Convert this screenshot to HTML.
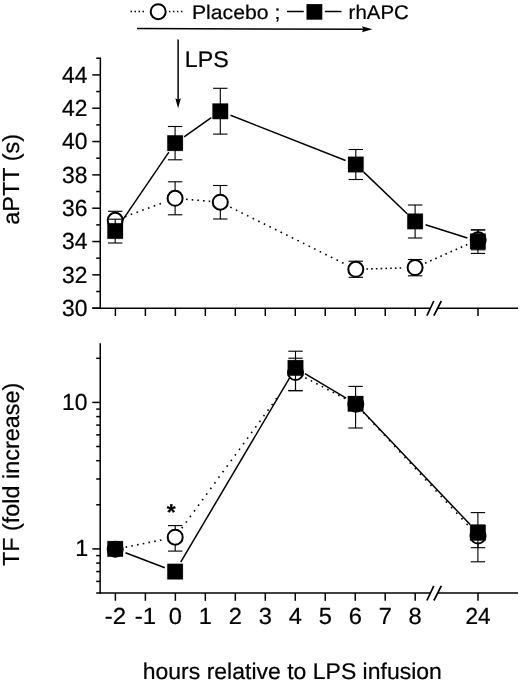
<!DOCTYPE html>
<html><head><meta charset="utf-8"><title>Figure</title>
<style>html,body{margin:0;padding:0;background:#fff}svg{display:block}</style></head>
<body>
<svg width="520" height="682" viewBox="0 0 520 682" font-family='"Liberation Sans", sans-serif' fill="#000" stroke="#000" stroke-width="0.22" stroke-linejoin="round">
<rect width="520" height="682" fill="#fff" stroke="none"/>
<line x1="130.50" y1="11.50" x2="144.50" y2="11.50" stroke="#000" stroke-width="1.5" stroke-dasharray="1.5 2.5"/>
<line x1="168.90" y1="11.50" x2="183.00" y2="11.50" stroke="#000" stroke-width="1.5" stroke-dasharray="1.5 2.5"/>
<circle cx="158.20" cy="11.70" r="7.5" fill="#fff" stroke="#000" stroke-width="2.0"/>
<text transform="translate(191.90,19.00) skewX(0.1)" font-size="19.7" text-anchor="start" textLength="88.4" lengthAdjust="spacingAndGlyphs" >Placebo ;</text>
<line x1="287.00" y1="11.50" x2="303.80" y2="11.50" stroke="#000" stroke-width="1.5" />
<line x1="324.90" y1="11.50" x2="341.50" y2="11.50" stroke="#000" stroke-width="1.5" />
<rect x="306.5" y="4.1" width="15.8" height="15.6" fill="#000" stroke="none"/>
<text transform="translate(348.60,19.00) skewX(0.1)" font-size="19.7" text-anchor="start" textLength="60.3" lengthAdjust="spacingAndGlyphs" >rhAPC</text>
<line x1="137.00" y1="28.50" x2="364.00" y2="29.30" stroke="#000" stroke-width="1.5" />
<polygon points="372.4,29.35 361.9,26.3 363.4,29.3 361.9,32.3" fill="#000" stroke="none"/>
<line x1="178.10" y1="39.60" x2="178.10" y2="100.00" stroke="#000" stroke-width="1.5" />
<polygon points="178.1,108.3 175.3,98.3 178.1,99.7 180.9,98.3" fill="#000" stroke="none"/>
<text transform="translate(184.80,67.20) skewX(0.1)" font-size="22.6" text-anchor="start" textLength="44" lengthAdjust="spacingAndGlyphs" >LPS</text>
<line x1="100.35" y1="57.60" x2="100.25" y2="308.95" stroke="#000" stroke-width="1.5" />
<line x1="92.30" y1="308.20" x2="430.30" y2="308.20" stroke="#000" stroke-width="1.5" />
<line x1="438.00" y1="308.20" x2="518.00" y2="308.20" stroke="#000" stroke-width="1.5" />
<line x1="426.90" y1="315.70" x2="433.80" y2="301.00" stroke="#000" stroke-width="1.7" />
<line x1="433.90" y1="315.70" x2="441.30" y2="301.00" stroke="#000" stroke-width="1.7" />
<line x1="92.30" y1="308.20" x2="100.20" y2="308.20" stroke="#000" stroke-width="1.5" />
<text transform="translate(87.50,316.10) skewX(0.1)" font-size="23.3" text-anchor="end" textLength="25.5" lengthAdjust="spacingAndGlyphs" >30</text>
<line x1="96.20" y1="291.53" x2="100.20" y2="291.53" stroke="#000" stroke-width="1.5" />
<line x1="92.30" y1="274.87" x2="100.20" y2="274.87" stroke="#000" stroke-width="1.5" />
<text transform="translate(87.50,282.77) skewX(0.1)" font-size="23.3" text-anchor="end" textLength="25.5" lengthAdjust="spacingAndGlyphs" >32</text>
<line x1="96.20" y1="258.20" x2="100.20" y2="258.20" stroke="#000" stroke-width="1.5" />
<line x1="92.30" y1="241.54" x2="100.20" y2="241.54" stroke="#000" stroke-width="1.5" />
<text transform="translate(87.50,249.44) skewX(0.1)" font-size="23.3" text-anchor="end" textLength="25.5" lengthAdjust="spacingAndGlyphs" >34</text>
<line x1="96.20" y1="224.88" x2="100.20" y2="224.88" stroke="#000" stroke-width="1.5" />
<line x1="92.30" y1="208.21" x2="100.20" y2="208.21" stroke="#000" stroke-width="1.5" />
<text transform="translate(87.50,216.11) skewX(0.1)" font-size="23.3" text-anchor="end" textLength="25.5" lengthAdjust="spacingAndGlyphs" >36</text>
<line x1="96.20" y1="191.54" x2="100.20" y2="191.54" stroke="#000" stroke-width="1.5" />
<line x1="92.30" y1="174.88" x2="100.20" y2="174.88" stroke="#000" stroke-width="1.5" />
<text transform="translate(87.50,182.78) skewX(0.1)" font-size="23.3" text-anchor="end" textLength="25.5" lengthAdjust="spacingAndGlyphs" >38</text>
<line x1="96.20" y1="158.22" x2="100.20" y2="158.22" stroke="#000" stroke-width="1.5" />
<line x1="92.30" y1="141.55" x2="100.20" y2="141.55" stroke="#000" stroke-width="1.5" />
<text transform="translate(87.50,149.45) skewX(0.1)" font-size="23.3" text-anchor="end" textLength="25.5" lengthAdjust="spacingAndGlyphs" >40</text>
<line x1="96.20" y1="124.88" x2="100.20" y2="124.88" stroke="#000" stroke-width="1.5" />
<line x1="92.30" y1="108.22" x2="100.20" y2="108.22" stroke="#000" stroke-width="1.5" />
<text transform="translate(87.50,116.12) skewX(0.1)" font-size="23.3" text-anchor="end" textLength="25.5" lengthAdjust="spacingAndGlyphs" >42</text>
<line x1="96.20" y1="91.56" x2="100.20" y2="91.56" stroke="#000" stroke-width="1.5" />
<line x1="92.30" y1="74.89" x2="100.20" y2="74.89" stroke="#000" stroke-width="1.5" />
<text transform="translate(87.50,82.79) skewX(0.1)" font-size="23.3" text-anchor="end" textLength="25.5" lengthAdjust="spacingAndGlyphs" >44</text>
<line x1="96.20" y1="58.22" x2="100.20" y2="58.22" stroke="#000" stroke-width="1.5" />
<line x1="115.40" y1="308.20" x2="115.40" y2="316.00" stroke="#000" stroke-width="1.5" />
<line x1="145.38" y1="308.20" x2="145.38" y2="316.00" stroke="#000" stroke-width="1.5" />
<line x1="175.36" y1="308.20" x2="175.36" y2="316.00" stroke="#000" stroke-width="1.5" />
<line x1="205.34" y1="308.20" x2="205.34" y2="316.00" stroke="#000" stroke-width="1.5" />
<line x1="235.32" y1="308.20" x2="235.32" y2="316.00" stroke="#000" stroke-width="1.5" />
<line x1="265.30" y1="308.20" x2="265.30" y2="316.00" stroke="#000" stroke-width="1.5" />
<line x1="295.28" y1="308.20" x2="295.28" y2="316.00" stroke="#000" stroke-width="1.5" />
<line x1="325.26" y1="308.20" x2="325.26" y2="316.00" stroke="#000" stroke-width="1.5" />
<line x1="355.24" y1="308.20" x2="355.24" y2="316.00" stroke="#000" stroke-width="1.5" />
<line x1="385.22" y1="308.20" x2="385.22" y2="316.00" stroke="#000" stroke-width="1.5" />
<line x1="415.20" y1="308.20" x2="415.20" y2="316.00" stroke="#000" stroke-width="1.5" />
<line x1="478.00" y1="308.20" x2="478.00" y2="316.00" stroke="#000" stroke-width="1.5" />
<line x1="124.96" y1="216.71" x2="160.99" y2="203.48" stroke="#000" stroke-width="1.6" stroke-dasharray="1.6 4.530"/>
<line x1="186.01" y1="199.24" x2="210.24" y2="201.33" stroke="#000" stroke-width="1.6" stroke-dasharray="1.6 4.080"/>
<line x1="230.25" y1="207.13" x2="343.52" y2="263.22" stroke="#000" stroke-width="1.6" stroke-dasharray="1.6 4.640"/>
<line x1="366.40" y1="269.00" x2="401.23" y2="268.00" stroke="#000" stroke-width="1.6" stroke-dasharray="1.6 3.150"/>
<line x1="425.07" y1="263.21" x2="467.32" y2="244.59" stroke="#000" stroke-width="1.6" stroke-dasharray="1.6 3.970"/>
<line x1="115.20" y1="211.30" x2="115.20" y2="229.50" stroke="#000" stroke-width="1.12" />
<line x1="108.00" y1="211.30" x2="122.40" y2="211.30" stroke="#000" stroke-width="1.12" />
<line x1="108.00" y1="229.50" x2="122.40" y2="229.50" stroke="#000" stroke-width="1.12" />
<line x1="175.10" y1="181.80" x2="175.10" y2="214.80" stroke="#000" stroke-width="1.12" />
<line x1="167.90" y1="181.80" x2="182.30" y2="181.80" stroke="#000" stroke-width="1.12" />
<line x1="167.90" y1="214.80" x2="182.30" y2="214.80" stroke="#000" stroke-width="1.12" />
<line x1="220.30" y1="185.50" x2="220.30" y2="219.00" stroke="#000" stroke-width="1.12" />
<line x1="213.10" y1="185.50" x2="227.50" y2="185.50" stroke="#000" stroke-width="1.12" />
<line x1="213.10" y1="219.00" x2="227.50" y2="219.00" stroke="#000" stroke-width="1.12" />
<line x1="355.80" y1="261.20" x2="355.80" y2="277.30" stroke="#000" stroke-width="1.12" />
<line x1="348.60" y1="261.20" x2="363.00" y2="261.20" stroke="#000" stroke-width="1.12" />
<line x1="348.60" y1="277.30" x2="363.00" y2="277.30" stroke="#000" stroke-width="1.12" />
<line x1="415.10" y1="259.50" x2="415.10" y2="275.80" stroke="#000" stroke-width="1.12" />
<line x1="407.90" y1="259.50" x2="422.30" y2="259.50" stroke="#000" stroke-width="1.12" />
<line x1="407.90" y1="275.80" x2="422.30" y2="275.80" stroke="#000" stroke-width="1.12" />
<line x1="478.20" y1="229.90" x2="478.20" y2="249.80" stroke="#000" stroke-width="1.12" />
<line x1="471.00" y1="229.90" x2="485.40" y2="229.90" stroke="#000" stroke-width="1.12" />
<line x1="471.00" y1="249.80" x2="485.40" y2="249.80" stroke="#000" stroke-width="1.12" />
<circle cx="115.20" cy="220.30" r="7.5" fill="#fff" stroke="#000" stroke-width="2.0"/>
<circle cx="175.10" cy="198.30" r="7.5" fill="#fff" stroke="#000" stroke-width="2.0"/>
<circle cx="220.30" cy="202.20" r="7.5" fill="#fff" stroke="#000" stroke-width="2.0"/>
<circle cx="355.80" cy="269.30" r="7.5" fill="#fff" stroke="#000" stroke-width="2.0"/>
<circle cx="415.10" cy="267.60" r="7.5" fill="#fff" stroke="#000" stroke-width="2.0"/>
<circle cx="478.20" cy="239.80" r="7.5" fill="#fff" stroke="#000" stroke-width="2.0"/>
<line x1="121.39" y1="221.91" x2="168.91" y2="152.19" stroke="#000" stroke-width="1.5" />
<line x1="184.10" y1="136.77" x2="211.30" y2="117.63" stroke="#000" stroke-width="1.5" />
<line x1="230.54" y1="115.32" x2="345.56" y2="160.48" stroke="#000" stroke-width="1.5" />
<line x1="363.74" y1="172.12" x2="407.16" y2="213.78" stroke="#000" stroke-width="1.5" />
<line x1="425.58" y1="224.74" x2="467.42" y2="238.06" stroke="#000" stroke-width="1.5" />
<line x1="115.20" y1="219.20" x2="115.20" y2="243.00" stroke="#000" stroke-width="1.12" />
<line x1="108.00" y1="219.20" x2="122.40" y2="219.20" stroke="#000" stroke-width="1.12" />
<line x1="108.00" y1="243.00" x2="122.40" y2="243.00" stroke="#000" stroke-width="1.12" />
<line x1="175.10" y1="126.50" x2="175.10" y2="159.80" stroke="#000" stroke-width="1.12" />
<line x1="167.90" y1="126.50" x2="182.30" y2="126.50" stroke="#000" stroke-width="1.12" />
<line x1="167.90" y1="159.80" x2="182.30" y2="159.80" stroke="#000" stroke-width="1.12" />
<line x1="220.30" y1="88.30" x2="220.30" y2="134.10" stroke="#000" stroke-width="1.12" />
<line x1="213.10" y1="88.30" x2="227.50" y2="88.30" stroke="#000" stroke-width="1.12" />
<line x1="213.10" y1="134.10" x2="227.50" y2="134.10" stroke="#000" stroke-width="1.12" />
<line x1="355.80" y1="149.50" x2="355.80" y2="179.50" stroke="#000" stroke-width="1.12" />
<line x1="348.60" y1="149.50" x2="363.00" y2="149.50" stroke="#000" stroke-width="1.12" />
<line x1="348.60" y1="179.50" x2="363.00" y2="179.50" stroke="#000" stroke-width="1.12" />
<line x1="415.10" y1="205.00" x2="415.10" y2="238.00" stroke="#000" stroke-width="1.12" />
<line x1="407.90" y1="205.00" x2="422.30" y2="205.00" stroke="#000" stroke-width="1.12" />
<line x1="407.90" y1="238.00" x2="422.30" y2="238.00" stroke="#000" stroke-width="1.12" />
<line x1="477.90" y1="229.90" x2="477.90" y2="253.40" stroke="#000" stroke-width="1.12" />
<line x1="470.70" y1="229.90" x2="485.10" y2="229.90" stroke="#000" stroke-width="1.12" />
<line x1="470.70" y1="253.40" x2="485.10" y2="253.40" stroke="#000" stroke-width="1.12" />
<rect x="107.40" y="223.20" width="15.6" height="15.6" fill="#000"/>
<rect x="167.30" y="135.30" width="15.6" height="15.6" fill="#000"/>
<rect x="212.50" y="103.50" width="15.6" height="15.6" fill="#000"/>
<rect x="348.00" y="156.70" width="15.6" height="15.6" fill="#000"/>
<rect x="407.30" y="213.60" width="15.6" height="15.6" fill="#000"/>
<rect x="470.10" y="233.60" width="15.6" height="15.6" fill="#000"/>
<text transform="translate(19.1,224.8) rotate(-90) skewX(0.1)" font-size="23.2" textLength="90.8" lengthAdjust="spacingAndGlyphs">aPTT (s)</text>
<line x1="100.25" y1="343.30" x2="100.15" y2="593.75" stroke="#000" stroke-width="1.5" />
<line x1="96.20" y1="593.00" x2="430.30" y2="593.00" stroke="#000" stroke-width="1.5" />
<line x1="438.00" y1="593.00" x2="518.00" y2="593.00" stroke="#000" stroke-width="1.5" />
<line x1="426.90" y1="600.50" x2="433.80" y2="585.80" stroke="#000" stroke-width="1.7" />
<line x1="433.90" y1="600.50" x2="441.30" y2="585.80" stroke="#000" stroke-width="1.7" />
<line x1="96.20" y1="581.40" x2="100.20" y2="581.40" stroke="#000" stroke-width="1.5" />
<line x1="96.20" y1="571.59" x2="100.20" y2="571.59" stroke="#000" stroke-width="1.5" />
<line x1="96.20" y1="563.10" x2="100.20" y2="563.10" stroke="#000" stroke-width="1.5" />
<line x1="96.20" y1="555.60" x2="100.20" y2="555.60" stroke="#000" stroke-width="1.5" />
<line x1="96.20" y1="504.80" x2="100.20" y2="504.80" stroke="#000" stroke-width="1.5" />
<line x1="96.20" y1="479.00" x2="100.20" y2="479.00" stroke="#000" stroke-width="1.5" />
<line x1="96.20" y1="460.70" x2="100.20" y2="460.70" stroke="#000" stroke-width="1.5" />
<line x1="96.20" y1="446.50" x2="100.20" y2="446.50" stroke="#000" stroke-width="1.5" />
<line x1="96.20" y1="434.90" x2="100.20" y2="434.90" stroke="#000" stroke-width="1.5" />
<line x1="96.20" y1="425.09" x2="100.20" y2="425.09" stroke="#000" stroke-width="1.5" />
<line x1="96.20" y1="416.60" x2="100.20" y2="416.60" stroke="#000" stroke-width="1.5" />
<line x1="96.20" y1="409.10" x2="100.20" y2="409.10" stroke="#000" stroke-width="1.5" />
<line x1="96.20" y1="358.30" x2="100.20" y2="358.30" stroke="#000" stroke-width="1.5" />
<line x1="92.30" y1="548.90" x2="100.20" y2="548.90" stroke="#000" stroke-width="1.5" />
<line x1="92.30" y1="402.40" x2="100.20" y2="402.40" stroke="#000" stroke-width="1.5" />
<text transform="translate(87.50,409.70) skewX(0.1)" font-size="23.3" text-anchor="end" textLength="25.5" lengthAdjust="spacingAndGlyphs" >10</text>
<text transform="translate(88.20,556.10) skewX(0.1)" font-size="23.3" text-anchor="end" >1</text>
<line x1="115.40" y1="593.00" x2="115.40" y2="600.80" stroke="#000" stroke-width="1.5" />
<text transform="translate(115.40,623.80) skewX(0.1)" font-size="23.3" text-anchor="middle" textLength="21.4" lengthAdjust="spacingAndGlyphs" >-2</text>
<line x1="145.38" y1="593.00" x2="145.38" y2="600.80" stroke="#000" stroke-width="1.5" />
<text transform="translate(145.38,623.80) skewX(0.1)" font-size="23.3" text-anchor="middle" textLength="21.4" lengthAdjust="spacingAndGlyphs" >-1</text>
<line x1="175.36" y1="593.00" x2="175.36" y2="600.80" stroke="#000" stroke-width="1.5" />
<text transform="translate(175.36,623.80) skewX(0.1)" font-size="23.3" text-anchor="middle" textLength="13.2" lengthAdjust="spacingAndGlyphs" >0</text>
<line x1="205.34" y1="593.00" x2="205.34" y2="600.80" stroke="#000" stroke-width="1.5" />
<text transform="translate(205.34,623.80) skewX(0.1)" font-size="23.3" text-anchor="middle" textLength="13.2" lengthAdjust="spacingAndGlyphs" >1</text>
<line x1="235.32" y1="593.00" x2="235.32" y2="600.80" stroke="#000" stroke-width="1.5" />
<text transform="translate(235.32,623.80) skewX(0.1)" font-size="23.3" text-anchor="middle" textLength="13.2" lengthAdjust="spacingAndGlyphs" >2</text>
<line x1="265.30" y1="593.00" x2="265.30" y2="600.80" stroke="#000" stroke-width="1.5" />
<text transform="translate(265.30,623.80) skewX(0.1)" font-size="23.3" text-anchor="middle" textLength="13.2" lengthAdjust="spacingAndGlyphs" >3</text>
<line x1="295.28" y1="593.00" x2="295.28" y2="600.80" stroke="#000" stroke-width="1.5" />
<text transform="translate(295.28,623.80) skewX(0.1)" font-size="23.3" text-anchor="middle" textLength="13.2" lengthAdjust="spacingAndGlyphs" >4</text>
<line x1="325.26" y1="593.00" x2="325.26" y2="600.80" stroke="#000" stroke-width="1.5" />
<text transform="translate(325.26,623.80) skewX(0.1)" font-size="23.3" text-anchor="middle" textLength="13.2" lengthAdjust="spacingAndGlyphs" >5</text>
<line x1="355.24" y1="593.00" x2="355.24" y2="600.80" stroke="#000" stroke-width="1.5" />
<text transform="translate(355.24,623.80) skewX(0.1)" font-size="23.3" text-anchor="middle" textLength="13.2" lengthAdjust="spacingAndGlyphs" >6</text>
<line x1="385.22" y1="593.00" x2="385.22" y2="600.80" stroke="#000" stroke-width="1.5" />
<text transform="translate(385.22,623.80) skewX(0.1)" font-size="23.3" text-anchor="middle" textLength="13.2" lengthAdjust="spacingAndGlyphs" >7</text>
<line x1="415.20" y1="593.00" x2="415.20" y2="600.80" stroke="#000" stroke-width="1.5" />
<text transform="translate(415.20,623.80) skewX(0.1)" font-size="23.3" text-anchor="middle" textLength="13.2" lengthAdjust="spacingAndGlyphs" >8</text>
<line x1="478.00" y1="593.00" x2="478.00" y2="600.80" stroke="#000" stroke-width="1.5" />
<text transform="translate(478.00,623.80) skewX(0.1)" font-size="23.3" text-anchor="middle" textLength="25.2" lengthAdjust="spacingAndGlyphs" >24</text>
<line x1="125.59" y1="547.20" x2="161.45" y2="539.97" stroke="#000" stroke-width="1.6" stroke-dasharray="1.6 4.230"/>
<line x1="181.75" y1="528.24" x2="276.74" y2="398.26" stroke="#000" stroke-width="1.6" stroke-dasharray="1.6 5.330"/>
<line x1="305.24" y1="377.72" x2="345.07" y2="398.66" stroke="#000" stroke-width="1.6" stroke-dasharray="1.6 4.600"/>
<line x1="363.21" y1="412.29" x2="467.64" y2="524.93" stroke="#000" stroke-width="1.6" stroke-dasharray="1.6 6.000"/>
<line x1="175.20" y1="525.60" x2="175.20" y2="551.10" stroke="#000" stroke-width="1.12" />
<line x1="168.00" y1="525.60" x2="182.40" y2="525.60" stroke="#000" stroke-width="1.12" />
<line x1="168.00" y1="551.10" x2="182.40" y2="551.10" stroke="#000" stroke-width="1.12" />
<line x1="295.50" y1="358.20" x2="295.50" y2="390.50" stroke="#000" stroke-width="1.12" />
<line x1="288.30" y1="358.20" x2="302.70" y2="358.20" stroke="#000" stroke-width="1.12" />
<line x1="288.30" y1="390.50" x2="302.70" y2="390.50" stroke="#000" stroke-width="1.12" />
<line x1="478.00" y1="525.00" x2="478.00" y2="547.70" stroke="#000" stroke-width="1.12" />
<line x1="470.80" y1="525.00" x2="485.20" y2="525.00" stroke="#000" stroke-width="1.12" />
<line x1="470.80" y1="547.70" x2="485.20" y2="547.70" stroke="#000" stroke-width="1.12" />
<circle cx="115.20" cy="549.30" r="7.5" fill="#fff" stroke="#000" stroke-width="2.0"/>
<circle cx="175.20" cy="537.20" r="7.5" fill="#fff" stroke="#000" stroke-width="2.0"/>
<circle cx="295.50" cy="372.60" r="7.5" fill="#fff" stroke="#000" stroke-width="2.0"/>
<circle cx="355.80" cy="404.30" r="7.5" fill="#fff" stroke="#000" stroke-width="2.0"/>
<circle cx="478.00" cy="536.10" r="7.5" fill="#fff" stroke="#000" stroke-width="2.0"/>
<line x1="125.49" y1="552.80" x2="164.81" y2="567.70" stroke="#000" stroke-width="1.5" />
<line x1="180.70" y1="562.13" x2="289.90" y2="377.37" stroke="#000" stroke-width="1.5" />
<line x1="304.94" y1="373.54" x2="346.16" y2="398.16" stroke="#000" stroke-width="1.5" />
<line x1="363.17" y1="411.78" x2="470.33" y2="524.82" stroke="#000" stroke-width="1.5" />
<line x1="295.50" y1="351.20" x2="295.50" y2="390.80" stroke="#000" stroke-width="1.12" />
<line x1="288.30" y1="351.20" x2="302.70" y2="351.20" stroke="#000" stroke-width="1.12" />
<line x1="288.30" y1="390.80" x2="302.70" y2="390.80" stroke="#000" stroke-width="1.12" />
<line x1="355.60" y1="386.40" x2="355.60" y2="428.00" stroke="#000" stroke-width="1.12" />
<line x1="348.40" y1="386.40" x2="362.80" y2="386.40" stroke="#000" stroke-width="1.12" />
<line x1="348.40" y1="428.00" x2="362.80" y2="428.00" stroke="#000" stroke-width="1.12" />
<line x1="477.90" y1="512.60" x2="477.90" y2="561.80" stroke="#000" stroke-width="1.12" />
<line x1="470.70" y1="512.60" x2="485.10" y2="512.60" stroke="#000" stroke-width="1.12" />
<line x1="470.70" y1="561.80" x2="485.10" y2="561.80" stroke="#000" stroke-width="1.12" />
<rect x="107.40" y="541.10" width="15.6" height="15.6" fill="#000"/>
<rect x="167.30" y="563.80" width="15.6" height="15.6" fill="#000"/>
<rect x="287.70" y="360.10" width="15.6" height="15.6" fill="#000"/>
<rect x="347.80" y="396.00" width="15.6" height="15.6" fill="#000"/>
<rect x="470.10" y="525.00" width="15.6" height="15.6" fill="#000"/>
<text transform="translate(171.20,520.30) skewX(0.1)" font-size="23" text-anchor="middle" font-weight="bold">*</text>
<text transform="translate(19.1,566.0) rotate(-90) skewX(0.1)" font-size="23.2" textLength="183.2" lengthAdjust="spacingAndGlyphs">TF (fold increase)</text>
<text transform="translate(142.70,678.60) skewX(0.1)" font-size="22.7" text-anchor="start" textLength="299.2" lengthAdjust="spacingAndGlyphs" >hours relative to LPS infusion</text>
</svg>
</body></html>
